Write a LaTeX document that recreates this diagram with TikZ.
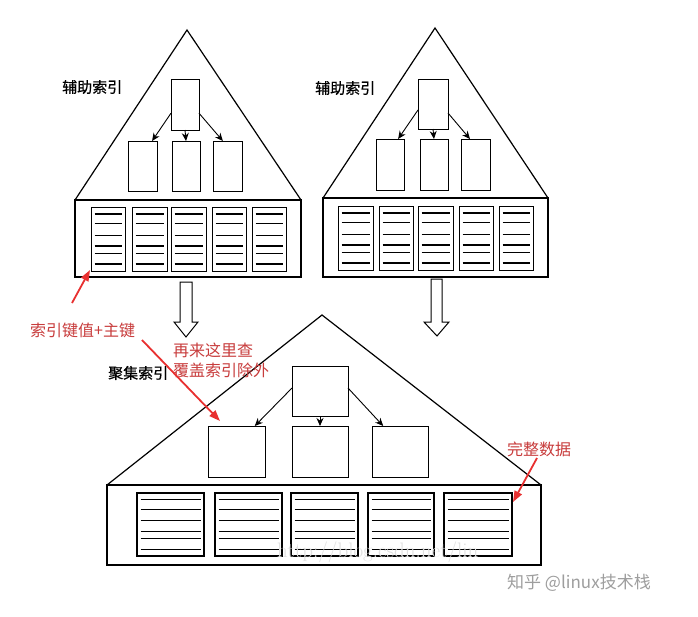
\documentclass[tikz,border=0pt]{standalone}
\usepackage{fontspec}
\newfontfamily\cjk{Noto Sans CJK SC}
\newfontfamily\cjkb[FakeBold=0.6]{Noto Sans CJK SC}
\usetikzlibrary{arrows.meta,calc}
\definecolor{annred}{RGB}{200,60,60}
\definecolor{arrred}{RGB}{232,48,48}
\tikzset{
  tri/.style={line width=1.2pt, line join=miter},
  tbox/.style={draw, line width=1pt, inner sep=0pt, outer sep=0pt, fill=white},
  pagebox/.style={draw, line width=1pt, inner sep=0pt, outer sep=0pt},
  pagelinestyle/.style={line width=1.1pt},
  treearrow/.style={line width=0.9pt, -{Stealth[length=8pt,width=7pt]}},
  hollow/.style={line width=1pt, fill=white, line join=miter},
  redarrow/.style={line width=1.8pt, arrred, -{Triangle[length=11pt,width=8pt]}},
  blabel/.style={inner sep=0pt, font=\cjkb\fontsize{15}{18}\selectfont},
  rlabel/.style={inner sep=0pt, text=annred, font=\cjk\fontsize{16}{19}\selectfont},
  wm/.style={inner sep=0pt, text=black!38, font=\cjk\fontsize{17}{20}\selectfont},
  wm2/.style={inner sep=0pt, text=black!12, font=\fontsize{21}{24}\selectfont}
}
\newcommand\boxnd[5]{%
  \node[tbox, minimum width={(#3-#2)*1pt}, minimum height={(#5-#4)*1pt}] (#1) at ({(#2+#3)/2},{(#4+#5)/2}) {};}
\newcommand\leafpg[6][1pt]{%
  \node[pagebox, line width=#1, minimum width={(#4-#3)*1pt}, minimum height={(#6-#5)*1pt}] (#2) at ({(#3+#4)/2},{(#5+#6)/2}) {};
  \foreach \f in {0.11,0.26,0.44,0.61,0.72,0.89}
    \draw[pagelinestyle] ($(#2.north west)!\f!(#2.south west)+(3.5,0)$) -- ($(#2.north east)!\f!(#2.south east)+(-3.5,0)$);}
\begin{document}
\begin{tikzpicture}[x=1pt,y=-1pt]
\useasboundingbox[fill=white] (0,0) rectangle (698,616);

% ---------- top-left secondary index ----------
\coordinate (tlA) at (187,30);
\coordinate (tlL) at (75,200);
\coordinate (tlR) at (301,200);
\draw[tri] (tlL) -- (tlA) -- (tlR);
\node[tbox, fill=none, line width=1.2pt, minimum width=226pt, minimum height=77pt] (tlbase) at (188,238.5) {};
\boxnd{tlroot}{171}{199}{79}{130}
\boxnd{tlc1}{128}{157}{141}{191}
\boxnd{tlc2}{172}{200}{141}{191}
\boxnd{tlc3}{213}{242}{141}{191}
\draw[treearrow] ($(tlroot.north west)!0.67!(tlroot.south west)$) -- ($(tlc1.north west)!0.83!(tlc1.north east)$);
\draw[treearrow] (tlroot.south) -- (tlc2.north);
\draw[treearrow] ($(tlroot.north east)!0.67!(tlroot.south east)$) -- ($(tlc3.north west)!0.34!(tlc3.north east)$);
\leafpg{tlp1}{91}{125}{207}{271}
\leafpg{tlp2}{132}{167}{207}{271}
\leafpg{tlp3}{171}{206}{207}{271}
\leafpg{tlp4}{212}{246}{207}{271}
\leafpg{tlp5}{252}{286}{207}{271}
\node[blabel, anchor=west] (tllbl) at (62,87) {辅助索引};

% ---------- top-right secondary index ----------
\coordinate (trA) at (435,28);
\coordinate (trL) at (323,198);
\coordinate (trR) at (548,198);
\draw[tri] (trL) -- (trA) -- (trR);
\node[tbox, fill=none, line width=1.2pt, minimum width=225pt, minimum height=79pt] (trbase) at (435.5,237.5) {};
\boxnd{trroot}{418}{448}{79}{129}
\boxnd{trc1}{376}{404}{139}{190}
\boxnd{trc2}{420}{448}{139}{190}
\boxnd{trc3}{461}{490}{139}{190}
\draw[treearrow] ($(trroot.north west)!0.62!(trroot.south west)$) -- ($(trc1.north west)!0.79!(trc1.north east)$);
\draw[treearrow] (trroot.south) -- (trc2.north);
\draw[treearrow] ($(trroot.north east)!0.68!(trroot.south east)$) -- ($(trc3.north west)!0.31!(trc3.north east)$);
\leafpg{trp1}{338}{373}{206}{270}
\leafpg{trp2}{379}{413}{206}{270}
\leafpg{trp3}{418}{453}{206}{270}
\leafpg{trp4}{459}{493}{206}{270}
\leafpg{trp5}{499}{533}{206}{270}
\node[blabel, anchor=west] (trlbl) at (315,88) {辅助索引};

% ---------- hollow arrows ----------
\draw[hollow] (180,282) -- (192,282) -- (192,322) -- (198,322) -- (186,337) -- (174,322) -- (180,322) -- cycle;
\draw[hollow] (431,279) -- (442,279) -- (442,322) -- (449,322) -- (437,336) -- (424,322) -- (431,322) -- cycle;

% ---------- bottom clustered index ----------
\coordinate (btA) at (322,315);
\coordinate (btL) at (107,485);
\coordinate (btR) at (541,485);
\draw[tri] (btL) -- (btA) -- (btR);
\node[tbox, fill=none, line width=1.2pt, minimum width=434pt, minimum height=80pt] (btbase) at (324,525) {};
\boxnd{btroot}{292}{348}{366}{416}
\boxnd{btc1}{208}{265}{426}{477}
\boxnd{btc2}{292}{348}{426}{477}
\boxnd{btc3}{372}{428}{426}{477}
\draw[treearrow] ($(btroot.north west)!0.44!(btroot.south west)$) -- ($(btc1.north west)!0.82!(btc1.north east)$);
\draw[treearrow] (btroot.south) -- (btc2.north);
\draw[treearrow] ($(btroot.north east)!0.44!(btroot.south east)$) -- ($(btc3.north west)!0.2!(btc3.north east)$);
\leafpg[1.5pt]{btp1}{137}{204}{493}{556}
\leafpg[1.5pt]{btp2}{215}{282}{493}{556}
\leafpg[1.5pt]{btp3}{291}{358}{493}{556}
\leafpg[1.5pt]{btp4}{368}{434}{493}{556}
\leafpg[1.5pt]{btp5}{444}{512}{493}{556}
\node[blabel, anchor=west] (btlbl) at (108,373) {聚集索引};
\node[wm2, anchor=west] (csdn) at (277,552) {http://blog.csdn.net/lin};

% ---------- red annotations ----------
\node[rlabel, anchor=west] (r1) at (30,330) {索引键值+主键};
\node[rlabel, anchor=west] (r2) at (173,350) {再来这里查};
\node[rlabel, anchor=west] (r3) at (173,370) {覆盖索引除外};
\node[rlabel, anchor=west] (r4) at (507,449) {完整数据};
\coordinate (r1tail) at (72,303);
\coordinate (r1tip) at (90,270);
\coordinate (r2tail) at (142,340);
\coordinate (r2tip) at (220,421);
\coordinate (r4tail) at (537,458);
\coordinate (r4tip) at (513,502);
\draw[redarrow] (r1tail) -- (r1tip);
\draw[redarrow] (r2tail) -- (r2tip);
\draw[redarrow] (r4tail) -- (r4tip);

% ---------- watermark ----------
\node[wm, anchor=west] (zhihu) at (507,583) {知乎 @linux技术栈};
\end{tikzpicture}
\end{document}
